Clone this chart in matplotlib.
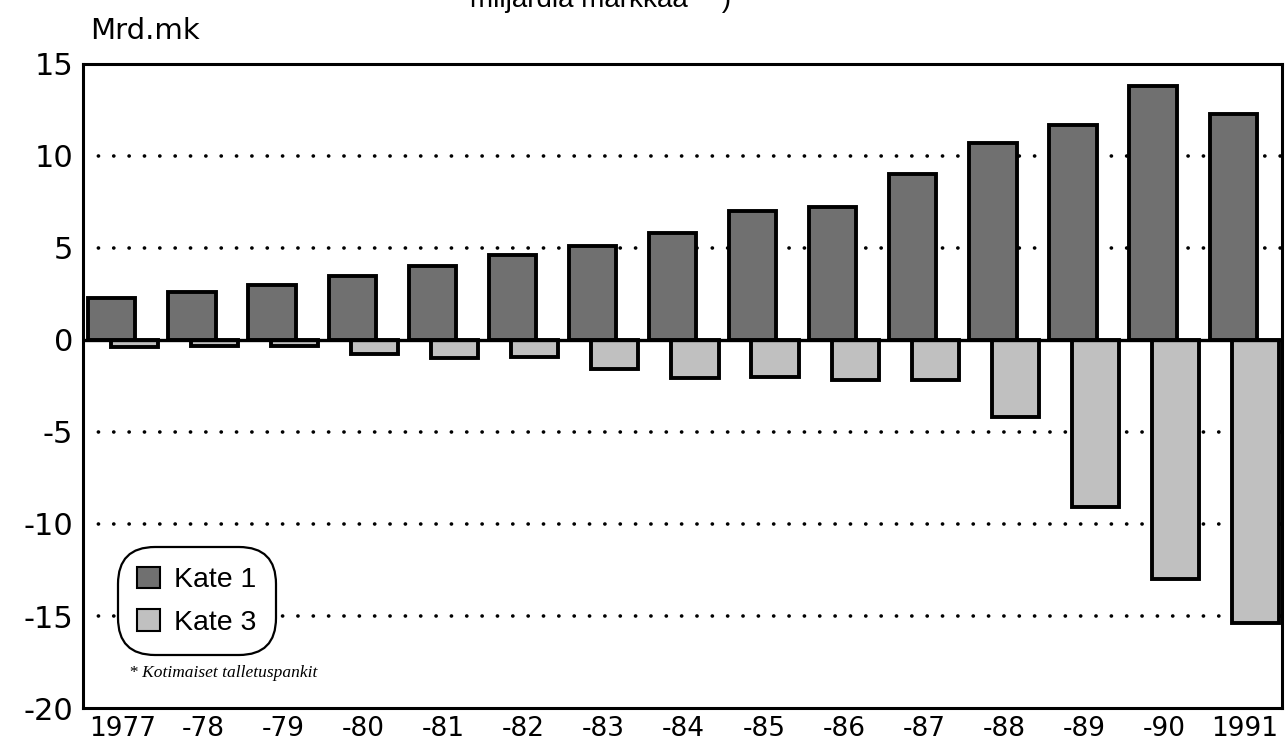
import numpy as np
import matplotlib
matplotlib.use("Agg")
import matplotlib.pyplot as plt
from matplotlib.patches import Patch

plt.rcParams['font.family'] = ['DejaVu Sans']

# data (Mrd.mk)
years = ["1977", "-78", "-79", "-80", "-81", "-82", "-83", "-84",
         "-85", "-86", "-87", "-88", "-89", "-90", "1991"]
kate1 = [2.3, 2.6, 3.0, 3.5, 4.0, 4.6, 5.1, 5.8, 7.0, 7.2, 9.0, 10.7, 11.7, 13.8, 12.3]
kate3 = [-0.4, -0.3, -0.3, -0.75, -1.0, -0.9, -1.55, -2.05, -2.0, -2.2, -2.2, -4.2, -9.1, -13.0, -15.4]
yticks = [15, 10, 5, 0, -5, -10, -15, -20]
gridlevels = [10, 5, -5, -10, -15]

fig = plt.figure(figsize=(12.85, 7.43), dpi=100)
ax = fig.add_axes([0.0646, 0.0471, 0.9331, 0.8668])

x = np.arange(len(years))
w = 0.59
off = 0.14
c1 = '#707070'
c3 = '#c0c0c0'

for g in gridlevels:
    ax.axhline(g, color='black', lw=2.6, linestyle=(0, (0.05, 4.2)),
               dash_capstyle='round', zorder=1)

ax.bar(x - off, kate1, w, color=c1, edgecolor='black', linewidth=2.8, zorder=3, label='Kate 1')
ax.bar(x + off, kate3, w, color=c3, edgecolor='black', linewidth=2.8, zorder=2, label='Kate 3')
ax.axhline(0, color='black', lw=2.4, zorder=4)

ax.set_xlim(-0.5, len(years) - 0.53)
ax.set_ylim(-20, 15)
ax.set_yticks(yticks)
ax.set_yticklabels([str(v) for v in yticks], fontsize=22)
ax.set_xticks(x)
ax.set_xticklabels(years, fontsize=19)
ax.tick_params(axis='y', length=0, pad=7)
ax.tick_params(axis='x', length=0, pad=6)
for s in ax.spines.values():
    s.set_linewidth(2.2)

fig.text(0.070, 0.958, "Mrd.mk", fontsize=21, ha='left', va='center')
fig.text(0.366, 0.990, "miljardia markkaa   *)", fontsize=20,
         family=['Liberation Sans', 'DejaVu Sans'], ha='left', va='baseline')

handles = [Patch(facecolor=c1, edgecolor='black', linewidth=1.5, label='Kate 1'),
           Patch(facecolor=c3, edgecolor='black', linewidth=1.5, label='Kate 3')]
leg = ax.legend(handles=handles, loc='lower left', bbox_to_anchor=(0.029, 0.082),
                borderaxespad=0, framealpha=1,
                prop={'family': ['Liberation Sans', 'DejaVu Sans'], 'size': 20.5},
                frameon=True, handlelength=0.8, handleheight=0.8,
                handletextpad=0.5, labelspacing=0.55, borderpad=0.68, fancybox=True)
fr = leg.get_frame()
fr.set_edgecolor('black')
fr.set_linewidth(1.6)
fr.set_boxstyle('round,pad=0,rounding_size=1.3')

ax.text(0.038, 0.055, "* Kotimaiset talletuspankit", transform=ax.transAxes,
        fontsize=12.5, family=['Liberation Serif', 'DejaVu Serif'], style='italic',
        ha='left', va='center')

fig.savefig("out.png", dpi=100)
